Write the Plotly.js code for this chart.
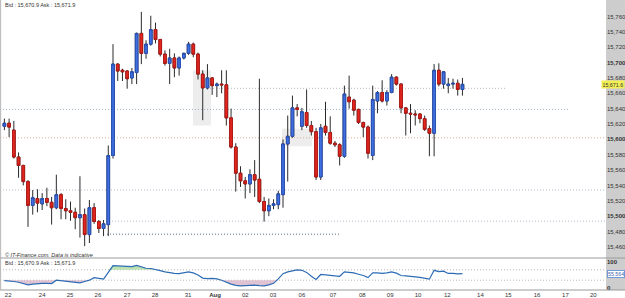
<!DOCTYPE html>
<html><head><meta charset="utf-8">
<script src="https://cdn.plot.ly/plotly-3.0.1.min.js"></script>
<style>html,body{margin:0;padding:0;background:#fff}#c{width:625px;height:298px}</style>
</head><body><div id="c"></div>
<script>
const opens  = [15617,15621,15612,15577,15566,15545,15514,15523,15516,15523,15518,15511,15528,15510,15507,15505,15498,15502,15476,15511,15493,15484,15489,15579,15698,15690,15689,15680,15687,15738,15712,15724,15743,15730,15711,15699,15706,15693,15706,15712,15724,15711,15685,15667,15680,15670,15672,15671,15628,15590,15556,15546,15542,15554,15548,15519,15507,15514,15515,15528,15594,15604,15641,15617,15635,15618,15610,15551,15617,15609,15595,15593,15578,15655,15651,15639,15622,15616,15579,15650,15661,15650,15661,15681,15672,15641,15634,15633,15633,15627,15614,15608,15690,15672,15670,15672,15673,15665];
const highs  = [15627,15627,15624,15583,15567,15547,15534,15535,15530,15537,15525,15554,15530,15522,15519,15511,15552,15510,15521,15517,15495,15495,15592,15724,15699,15692,15690,15693,15739,15766,15729,15761,15752,15731,15716,15718,15712,15708,15713,15727,15726,15713,15690,15698,15681,15674,15690,15690,15640,15595,15565,15551,15561,15573,15679,15525,15523,15522,15533,15600,15631,15657,15646,15641,15665,15624,15615,15620,15649,15630,15598,15595,15670,15683,15653,15640,15623,15618,15670,15663,15677,15664,15685,15682,15673,15642,15646,15638,15634,15631,15618,15698,15699,15689,15680,15679,15678,15680];
const lows   = [15612,15603,15575,15550,15540,15486,15502,15505,15508,15513,15489,15509,15496,15496,15494,15483,15472,15461,15465,15490,15478,15474,15474,15575,15676,15676,15666,15672,15672,15698,15705,15722,15725,15708,15696,15672,15681,15683,15704,15710,15707,15678,15625,15665,15658,15655,15660,15618,15588,15532,15538,15523,15530,15525,15517,15493,15500,15509,15509,15511,15545,15602,15630,15612,15615,15605,15547,15547,15605,15593,15590,15566,15576,15640,15631,15620,15603,15575,15573,15634,15648,15644,15660,15670,15634,15605,15608,15618,15621,15611,15578,15578,15669,15666,15660,15666,15657,15657];
const closes = [15621,15616,15577,15566,15545,15514,15524,15517,15523,15518,15511,15528,15510,15507,15505,15498,15502,15476,15511,15493,15484,15490,15579,15698,15689,15688,15679,15688,15738,15712,15724,15743,15730,15711,15699,15706,15693,15706,15712,15724,15711,15685,15667,15680,15670,15672,15671,15628,15590,15556,15546,15542,15554,15547,15519,15507,15514,15516,15529,15594,15604,15641,15639,15636,15618,15610,15551,15615,15609,15595,15593,15578,15659,15649,15638,15622,15616,15582,15652,15661,15650,15661,15681,15672,15641,15634,15633,15632,15627,15613,15608,15690,15672,15688,15672,15673,15665,15671.6];
const rsi = [28,27.5,25,22,16,12,15,17,18,18,17,30,28,27,25,23,20,25,30,40,36,34,60,86,85,84,81,82,87,80,76,75,72,67,62,58,56,55,58,62,58,50,38,36,37,35,30,22,15,10,8,9,10,11,9,8,12,18,35,55,62,66,70,68,60,45,33,52,50,49,46,45,62,61,58,53,48,40,58,58,56,58,62,57,48,47,46,43,41,37,34,68,63,65,56,56,54,55.564];
const tickPos = [0.8,8,13.9,19.8,26,31.9,38.9,44.6,51,56.9,63,69.6,75.8,81.7,87.6,93.8,100.8,106.7,112.8,118.8,124.7];
const tickLabels = ['22','24','25','26','27','28','31','<b>Aug</b>','02','03','06','07','08','09','10','12','14','15','16','17','20'];
const priceTicks = [15460,15480,15500,15520,15540,15560,15580,15600,15620,15640,15660,15680,15700,15720,15740,15760,15780];
const levels = [15666.5,15639,15602,15534,15493.5,15476.5];

const n = closes.length;
const idx = closes.map((_, i) => i);
const bodyHi = opens.map((o, i) => Math.max(o, closes[i]));
const bodyLo = opens.map((o, i) => Math.min(o, closes[i]));
const fmt = v => v.toLocaleString('en-US');
const BLUE = '#3f6fe0', RED = '#e3261f';

const traces = [
  {type:'candlestick', x:idx, open:opens, high:highs, low:lows, close:closes, xaxis:'x', yaxis:'y',
   increasing:{line:{color:'#2b2b2b', width:1}, fillcolor:BLUE},
   decreasing:{line:{color:'#2b2b2b', width:1}, fillcolor:RED},
   whiskerwidth:0, hoverinfo:'skip', showlegend:false},
  {type:'candlestick', x:idx, open:opens, high:bodyHi, low:bodyLo, close:closes, xaxis:'x', yaxis:'y',
   increasing:{line:{color:'#2a52b8', width:1}, fillcolor:BLUE},
   decreasing:{line:{color:'#b51a16', width:1}, fillcolor:RED},
   whiskerwidth:0, hoverinfo:'skip', showlegend:false},
  {type:'scatter', x:idx, y:rsi.map(() => 70), xaxis:'x', yaxis:'y2', mode:'lines', line:{width:0}, showlegend:false, hoverinfo:'skip'},
  {type:'scatter', x:idx, y:rsi.map(v => Math.max(v, 70)), xaxis:'x', yaxis:'y2', mode:'lines', line:{width:0}, fill:'tonexty', fillcolor:'rgba(165,215,150,0.75)', showlegend:false, hoverinfo:'skip'},
  {type:'scatter', x:idx, y:rsi.map(() => 30), xaxis:'x', yaxis:'y2', mode:'lines', line:{width:0}, showlegend:false, hoverinfo:'skip'},
  {type:'scatter', x:idx, y:rsi.map(v => Math.min(v, 30)), xaxis:'x', yaxis:'y2', mode:'lines', line:{width:0}, fill:'tonexty', fillcolor:'rgba(215,180,200,0.8)', showlegend:false, hoverinfo:'skip'},
  {type:'scatter', x:idx, y:rsi, xaxis:'x', yaxis:'y2', mode:'lines', line:{color:'#2d6cb5', width:1.2}, showlegend:false, hoverinfo:'skip'}
];

const XD = 606/625;
const dotLine = (x0, x1, yv, color, yref) => ({type:'line', xref:'paper', yref:yref || 'y', x0:x0, x1:x1, y0:yv, y1:yv, line:{color:color, width:1, dash:'1px,2px'}, layer:'below'});
const shapes = [
  {type:'rect', xref:'paper', yref:'paper', x0:XD, x1:1, y0:0, y1:1, fillcolor:'#cdcdcd', line:{width:0}, layer:'below'},
  {type:'rect', xref:'paper', yref:'y', x0:193/625, x1:211/625, y0:15618, y1:15690, fillcolor:'#ededed', line:{width:0}, layer:'below'},
  {type:'rect', xref:'paper', yref:'y', x0:282/625, x1:312/625, y0:15591, y1:15614, fillcolor:'#ededed', line:{width:0}, layer:'below'},
  dotLine(210/625, 505/625, levels[0], '#b4b9bf'),
  dotLine(0, 570/625, levels[1], '#9fb4cc'),
  dotLine(0, XD, levels[2], '#dcae90'),
  dotLine(0, XD, levels[3], '#b3bfcc'),
  dotLine(100/625, XD, levels[4], '#b3bfcc'),
  dotLine(107/625, 340/625, levels[5], '#5a7390'),
  dotLine(0, XD, 70, '#b8b8b8', 'y2'),
  dotLine(0, XD, 30, '#b8b8b8', 'y2'),
  {type:'line', xref:'paper', yref:'paper', x0:0, x1:1, y0:32/290, y1:32/290, line:{color:'#9a9a9a', width:1}},
  {type:'line', xref:'paper', yref:'paper', x0:0, x1:1, y0:0, y1:0, line:{color:'#9a9a9a', width:1}},
  {type:'line', xref:'paper', yref:'paper', x0:0.001, x1:0.001, y0:0, y1:1, line:{color:'#b5b5b5', width:1}}
];

const smallFont = {family:'Liberation Sans, Arial, sans-serif', size:5.5, color:'#333'};
const annotations = [
  {xref:'paper', yref:'paper', x:0.004, y:1, xanchor:'left', yanchor:'top', showarrow:false, text:'Bid : 15,670.9 Ask : 15,671.9', font:smallFont},
  {xref:'paper', yref:'paper', x:0.004, y:35/290, xanchor:'left', yanchor:'middle', showarrow:false, text:'<i>© IT-Finance.com. Data is indicative</i>', font:smallFont},
  {xref:'paper', yref:'paper', x:0.004, y:27/290, xanchor:'left', yanchor:'middle', showarrow:false, text:'Bid : 15,670.9 Ask : 15,671.9', font:smallFont},
  {xref:'paper', yref:'y', x:1, y:closes[n-1], xanchor:'right', yanchor:'middle', showarrow:false, text:fmt(closes[n-1]), bgcolor:'#f4ee55', borderpad:0.5, font:{family:'Liberation Sans, Arial, sans-serif', size:5.3, color:'#333'}},
  {xref:'paper', yref:'y2', x:1, y:rsi[n-1], xanchor:'right', yanchor:'middle', showarrow:false, text:String(rsi[n-1]), bgcolor:'#ffffff', bordercolor:'#6f9ad6', borderwidth:1, borderpad:0, font:{family:'Liberation Sans, Arial, sans-serif', size:5.3, color:'#3a68b0'}}
];

const layout = {
  width:625, height:298, margin:{l:0, r:0, t:0, b:8},
  paper_bgcolor:'#ffffff', plot_bgcolor:'#ffffff',
  showlegend:false, boxgap:0.2,
  font:{family:'Liberation Sans, Arial, sans-serif', size:6, color:'#333'},
  xaxis:{domain:[0, XD], anchor:'y2', range:[-0.93, 127.4], tickmode:'array', tickvals:tickPos, ticktext:tickLabels,
         showgrid:false, zeroline:false, showline:false, ticks:'', tickfont:{size:6, color:'#333'}, rangeslider:{visible:false}, fixedrange:true},
  yaxis:{domain:[32/290, 1], anchor:'x', side:'right', range:[15445.5, 15781.5], tickmode:'array', tickvals:priceTicks,
         ticktext:priceTicks.map(v => v % 100 === 0 ? '<b>' + fmt(v) + '</b>' : fmt(v)),
         showgrid:false, zeroline:false, showline:false, ticks:'', tickfont:{size:6, color:'#333'}},
  yaxis2:{domain:[0, 32/290], anchor:'x', side:'right', range:[-7.7, 115.4], tickmode:'array', tickvals:[0,100], ticktext:['<b>0</b>','<b>100</b>'],
          showgrid:false, zeroline:false, showline:false, ticks:'', tickfont:{size:6, color:'#333'}},
  shapes:shapes, annotations:annotations
};
Plotly.newPlot('c', traces, layout, {staticPlot:true, displayModeBar:false});
</script></body></html>
